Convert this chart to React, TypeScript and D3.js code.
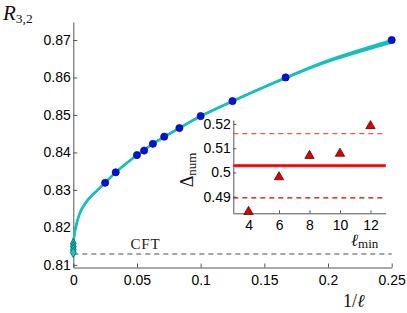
import React, { useEffect, useRef } from "react";
import * as d3 from "d3";

// main plot: R_{3,2} vs 1/l
const invL = [0.25, 0.1667, 0.125, 0.1, 0.0833, 0.0714, 0.0625, 0.0556, 0.05, 0.0333, 0.025];
const R32 = [0.87, 0.86, 0.8537, 0.8497, 0.8465, 0.8442, 0.8423, 0.8405, 0.8393, 0.8347, 0.8319];

// fitted curves (several fits, they spread a little at the ends)
const fitX = [0, 0.0005, 0.001, 0.002, 0.004, 0.006, 0.009, 0.0126, 0.0192, 0.025, 0.0333, 0.05, 0.0625, 0.0833, 0.1, 0.125, 0.1667, 0.2, 0.25];
const fitA = [0.8155, 0.8176, 0.8187, 0.8204, 0.8228, 0.8246, 0.8263, 0.8279, 0.83, 0.8319, 0.8347, 0.8393, 0.8423, 0.8465, 0.8497, 0.8537, 0.86, 0.8646, 0.87];
const fitB = [0.8149, 0.8172, 0.8184, 0.8202, 0.8227, 0.8245, 0.8262, 0.8278, 0.83, 0.8319, 0.8347, 0.8393, 0.8423, 0.8465, 0.8497, 0.8537, 0.8599, 0.8644, 0.8697];
const fitC = [0.8143, 0.8168, 0.8181, 0.82, 0.8226, 0.8244, 0.8261, 0.8277, 0.83, 0.8319, 0.8347, 0.8393, 0.8423, 0.8465, 0.8496, 0.8536, 0.8598, 0.8642, 0.8693];
const extrap = [0.8157, 0.8149, 0.8141, 0.8133];
const cftValue = 0.8129;

const xTicks = [0, 0.05, 0.1, 0.15, 0.2, 0.25];
const xTickLabels = ["0", "0.05", "0.1", "0.15", "0.2", "0.25"];
const yTicks = [0.81, 0.82, 0.83, 0.84, 0.85, 0.86, 0.87];
const yTickLabels = ["0.81", "0.82", "0.83", "0.84", "0.85", "0.86", "0.87"];

// inset: Delta_num vs l_min
const lMin = [4, 6, 8, 10, 12];
const deltaNum = [0.4838, 0.4981, 0.5069, 0.5078, 0.5192];
const deltaMean = 0.5028;
const deltaUpper = 0.516;
const deltaLower = 0.4895;
const inXTicks = [4, 6, 8, 10, 12];
const inYTicks = [0.49, 0.5, 0.51, 0.52];
const inYTickLabels = ["0.49", "0.5", "0.51", "0.52"];

const W = 407;
const H = 313;
const tickFont = "'Liberation Sans', Arial, Helvetica, sans-serif";
const texFont = "'Liberation Serif', 'DejaVu Serif', serif";
const cyan = "#17bfbf";
const axisColor = "#555";

const x = d3.scaleLinear().domain([0, 0.25]).range([73.3, 391.7]);
const y = d3.scaleLinear().domain([0.8093, 0.8748]).range([267.5, 22]);
const ix = d3.scaleLinear().domain([3, 13]).range([233.3, 385.7]);
const iy = d3.scaleLinear().domain([0.48315, 0.52165]).range([213.3, 120]);

const App = () => {
  const ref = useRef<SVGGElement>(null);

  useEffect(() => {
    const g = d3.select(ref.current);
    g.selectAll("*").remove();

    const styleAxis = (sel: any) => {
      sel.select(".domain").attr("stroke", axisColor);
      sel.selectAll(".tick line").attr("stroke", axisColor);
      sel.selectAll("text").attr("fill", "#000").style("font-family", tickFont).style("font-size", "14px");
    };

    g.append("g")
      .attr("transform", `translate(0,${y.range()[0]})`)
      .call(d3.axisBottom(x).tickValues(xTicks).tickFormat((d, i) => xTickLabels[i]).tickSizeInner(-4).tickSizeOuter(0).tickPadding(8))
      .call(styleAxis);
    g.append("g")
      .attr("transform", `translate(${x.range()[0]},0)`)
      .call(d3.axisLeft(y).tickValues(yTicks).tickFormat((d, i) => yTickLabels[i]).tickSizeInner(-4).tickSizeOuter(0).tickPadding(2.5))
      .call(styleAxis);

    // CFT line
    g.append("line")
      .attr("x1", x(0)).attr("x2", x(0.25))
      .attr("y1", y(cftValue)).attr("y2", y(cftValue))
      .attr("stroke", "#888").attr("stroke-width", 1.3).attr("stroke-dasharray", "5,4");

    const line = d3.line<number>()
      .x((d, i) => x(fitX[i]))
      .y(d => y(d))
      .curve(d3.curveCatmullRom.alpha(0.5));
    [fitC, fitB, fitA].forEach(f => {
      g.append("path").attr("d", line(f)).attr("fill", "none").attr("stroke", cyan).attr("stroke-width", 2.2);
    });

    const diamond = d3.symbol().type(d3.symbolDiamond).size(30);
    g.selectAll("path.ext").data(extrap).enter().append("path")
      .attr("class", "ext")
      .attr("d", diamond)
      .attr("transform", d => `translate(${x(0)},${y(d)})`)
      .attr("fill", "#10c8c8").attr("stroke", "#0a5e5e").attr("stroke-width", 0.8);

    g.selectAll("circle.pt").data(R32).enter().append("circle")
      .attr("class", "pt")
      .attr("cx", (d, i) => x(invL[i])).attr("cy", d => y(d)).attr("r", 3.6)
      .attr("fill", "#0010e8").attr("stroke", "#00105a").attr("stroke-width", 0.7);

    // inset
    const ins = g.append("g");
    ins.append("rect")
      .attr("x", ix.range()[0]).attr("y", iy.range()[1])
      .attr("width", ix.range()[1] - ix.range()[0]).attr("height", iy.range()[0] - iy.range()[1])
      .attr("fill", "white");

    ins.append("g")
      .attr("transform", `translate(0,${iy.range()[0]})`)
      .call(d3.axisBottom(ix).tickValues(inXTicks).tickSizeInner(-3).tickSizeOuter(0).tickPadding(7))
      .call(styleAxis);
    ins.append("g")
      .attr("transform", `translate(${ix.range()[0]},0)`)
      .call(d3.axisLeft(iy).tickValues(inYTicks).tickFormat((d, i) => inYTickLabels[i]).tickSizeInner(-3).tickSizeOuter(0).tickPadding(2.5))
      .call(styleAxis);

    const hline = (v: number, color: string, w: number, dash: string | null) => {
      const l = ins.append("line")
        .attr("x1", ix.range()[0]).attr("x2", ix.range()[1])
        .attr("y1", iy(v)).attr("y2", iy(v))
        .attr("stroke", color).attr("stroke-width", w);
      if (dash) l.attr("stroke-dasharray", dash);
    };
    hline(deltaUpper, "#ff5050", 1.3, "5,4");
    hline(deltaLower, "#d00000", 1.3, "5,4");
    hline(deltaMean, "#ff8080", 3.6, null);
    hline(deltaMean, "#ee0000", 2.2, null);

    const tri = d3.symbol().type(d3.symbolTriangle).size(38);
    ins.selectAll("path.tri").data(deltaNum).enter().append("path")
      .attr("class", "tri")
      .attr("d", tri)
      .attr("transform", (d, i) => `translate(${ix(lMin[i])},${iy(d)})`)
      .attr("fill", "#e00000").attr("stroke", "#300").attr("stroke-width", 0.7);
  }, []);

  return (
    <svg width={W} height={H} style={{ position: "absolute", left: 0, top: 0, background: "white" }}>
      <g ref={ref} />
      <text x={3} y={19.5} fontFamily={texFont} fontSize={21} fontStyle="italic" fill="#111">
        R<tspan fontStyle="normal" fontSize={13.5} dy={3}>3,2</tspan>
      </text>
      <text x={130.5} y={249.3} fontFamily={texFont} fontSize={15} letterSpacing={0.8} fill="#222">CFT</text>
      <text x={343} y={306.5} fontFamily={texFont} fontSize={18} fill="#111">1/<tspan fontStyle="italic">ℓ</tspan></text>
      <text transform="translate(193.3,170) rotate(-90)" textAnchor="middle" fontFamily={texFont} fontSize={18} fill="#111">
        Δ<tspan fontSize={13} dy={3}>num</tspan>
      </text>
      <text x={351} y={245.5} fontFamily={texFont} fontSize={17} fill="#111">
        <tspan fontStyle="italic">ℓ</tspan><tspan fontSize={13} dy={2}>min</tspan>
      </text>
    </svg>
  );
};

export default App;
